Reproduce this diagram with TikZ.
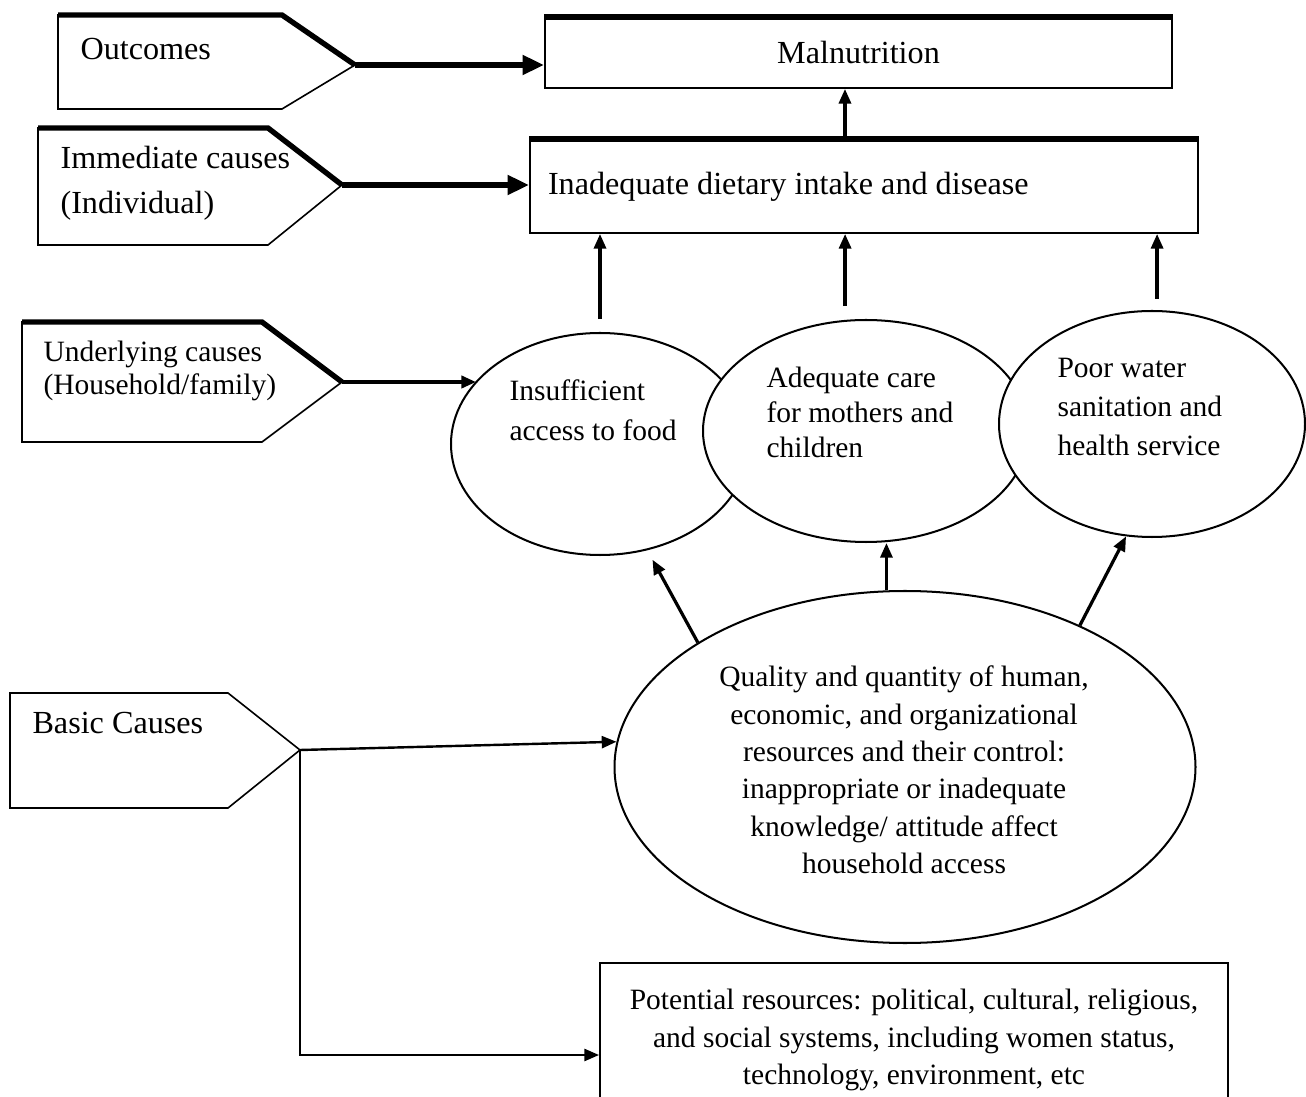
\documentclass[tikz,border=0pt]{standalone}
\usepackage{fontspec}
\setmainfont{Liberation Serif}
\usetikzlibrary{shapes.geometric,arrows.meta,calc}
\tikzset{
  causebox/.style={draw,rectangle,line width=0.7pt,inner sep=0pt},
  causeoval/.style={draw,ellipse,line width=0.75pt,fill=white,inner sep=0pt},
  tagline/.style={draw,line width=0.6pt},
  tagtop/.style={line width=2pt},
  bigconn/.style={line width=2.3pt,-{Triangle[length=8pt,width=7pt]}},
  conn/.style={line width=1.2pt,-{Triangle[length=5.5pt,width=4.5pt]}},
  thinconn/.style={line width=0.9pt,-{Triangle[length=5.5pt,width=4.5pt]}},
  txtbig/.style={font=\fontsize{12}{14}\selectfont},
  txtsmall/.style={font=\fontsize{11}{14}\selectfont},
  oneside/.style={anchor=north west,inner sep=0pt,align=flush left}
}
\begin{document}
\begin{tikzpicture}[x=0.373pt,y=-0.373pt]
      \useasboundingbox (0,0) rectangle (1306,1097);
      \draw[tagline] (58,15) -- (282,15) -- (355,65) coordinate (outtip) -- (282,109) -- (58,109) -- cycle;
      \draw[tagtop] (58,15) -- (282,15) -- (355,65);
      \draw[tagline] (38,128) -- (268,128) -- (342,185) coordinate (immtip) -- (268,245) -- (38,245) -- cycle;
      \draw[tagtop] (38,128) -- (268,128) -- (342,185);
      \draw[tagline] (22,322) -- (262,322) -- (342,382) coordinate (undtip) -- (262,442) -- (22,442) -- cycle;
      \draw[tagtop] (22,322) -- (262,322) -- (342,382);
      \draw[tagline] (10,693) -- (228,693) -- (300,750) coordinate (bastip) -- (228,808) -- (10,808) -- cycle;
      \node[txtbig,anchor=base west,inner sep=0pt] (outtxt) at (80,60) {Outcomes};
      \node[oneside,font=\fontsize{12}{16.8}\selectfont] (immtxt) at (60,146) {Immediate causes\\(Individual)};
      \node[oneside,font=\fontsize{11}{12.3}\selectfont] (undtxt) at (43,341) {Underlying causes\\(Household/family)};
      \node[txtbig,anchor=base west,inner sep=0pt] (bastxt) at (32,733) {Basic Causes};
      \node[causebox,txtbig,minimum width=627*0.373pt,minimum height=70*0.373pt] (mal) at (858.5,53) {Malnutrition};
      \node[causebox,txtbig,minimum width=668*0.373pt,minimum height=93*0.373pt,text width=632*0.373pt,align=flush left] (diet) at (864,186.5) {Inadequate dietary intake and disease};
      \draw[tagtop] (mal.north west) -- (mal.north east);
      \draw[tagtop] (diet.north west) -- (diet.north east);
      \node[causeoval,minimum width=298*0.373pt,minimum height=222*0.373pt] (food) at (600,444) {};
      \node[causeoval,minimum width=326*0.373pt,minimum height=222*0.373pt] (care) at (866,431) {};
      \node[causeoval,minimum width=306*0.373pt,minimum height=226*0.373pt] (water) at (1152,424) {};
      \node[causeoval,minimum width=581*0.373pt,minimum height=352*0.373pt] (quality) at (905,767) {};
      \node[causebox,minimum width=628*0.373pt,minimum height=184*0.373pt] (pot) at (914,1055) {};
      \node[oneside,font=\fontsize{11}{15}\selectfont] (foodtxt) at (509,379) {Insufficient\\access to food};
      \node[oneside,font=\fontsize{11}{12.9}\selectfont] (caretxt) at (766,367) {Adequate care\\for mothers and\\children};
      \node[oneside,font=\fontsize{11}{14.4}\selectfont] (watertxt) at (1057,358) {Poor water\\sanitation and\\health service};
      \node[align=center,font=\fontsize{11}{13.95}\selectfont] (qualtxt) at (904,770) {Quality and quantity of human,\\economic, and organizational\\resources and their control:\\inappropriate or inadequate\\knowledge/ attitude affect\\household access};
      \node[txtsmall,align=center] (pottxt) at (914,1040) {Potential resources: political, cultural, religious,\\and social systems, including women status,\\technology, environment, etc};
      \coordinate (dietup) at ([xshift=-7.1pt]diet.north);
      \coordinate (foodup) at ([yshift=4.8pt]food.north);
      \coordinate (careup) at ([xshift=-7.8pt,yshift=4.8pt]care.north);
      \coordinate (waterup) at ([xshift=1.9pt,yshift=4.1pt]water.north);
      \begin{scope}
        \draw[bigconn] (outtip) -- (outtip -| mal.west);
        \draw[bigconn] (immtip) -- (immtip -| diet.west);
        \draw[conn,line width=1.6pt] (undtip) -- (undtip -| food.153);
        \draw[conn] (dietup) -- (dietup |- mal.south);
        \draw[conn] (foodup) -- (foodup |- diet.south);
        \draw[conn] (careup) -- (careup |- diet.south);
        \draw[conn] (waterup) -- (waterup |- diet.south);
        \draw[conn,shorten >=4pt] (quality.149) -- (food.-66);
        \draw[conn] (quality.96) -- (quality.96 |- care.south);
        \draw[conn] (quality.39) -- (water.-103);
        \draw[thinconn] (bastip) -- (quality.175);
        \draw[thinconn] (bastip) |- (pot.west);
      \end{scope}
    \end{tikzpicture}
\end{document}
